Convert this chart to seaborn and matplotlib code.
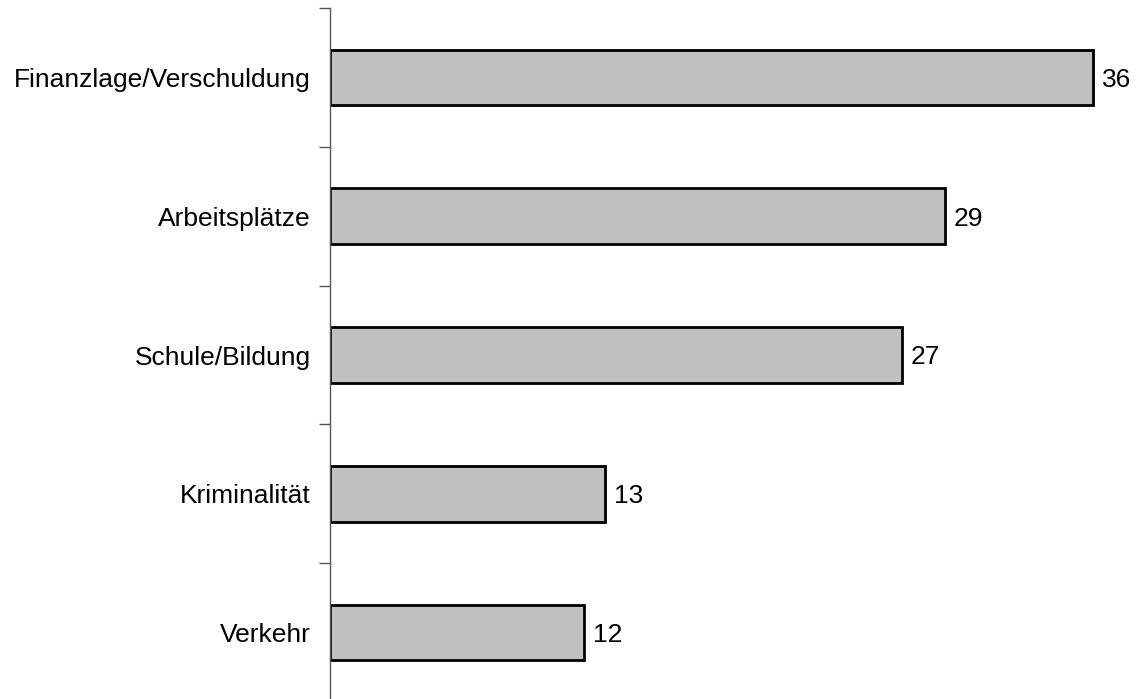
import matplotlib
matplotlib.use("Agg")
import matplotlib.pyplot as plt
import seaborn as sns
import pandas as pd

# data
categories = ["Finanzlage/Verschuldung", "Arbeitsplätze", "Schule/Bildung", "Kriminalität", "Verkehr"]
values = [36, 29, 27, 13, 12]

df = pd.DataFrame({"Thema": categories, "Wert": values})

sns.set_style("white")
plt.rcParams['font.family'] = ['Liberation Sans', 'DejaVu Sans']
plt.rcParams['text.color'] = 'black'
plt.rcParams['ytick.labelcolor'] = 'black'

fig = plt.figure(figsize=(11.38, 6.99), dpi=100)
ax = fig.add_axes([330 / 1138, -3 / 699, 808 / 1138, 694 / 699])

sns.barplot(
    data=df, x="Wert", y="Thema", orient="h",
    color="#c0c0c0", edgecolor="black", linewidth=2,
    width=0.4, saturation=1, ax=ax
)

for i, v in enumerate(values):
    ax.text(v + 0.42, i, str(v), va="center_baseline", ha="left", fontsize=19, color="black")

ax.set_xlim(0, 808 / 21.19)
ax.set_ylim(4.5, -0.5)
ax.set_xlabel("")
ax.set_ylabel("")
ax.set_xticks([])

# labels at centers, tick marks at category borders
ax.set_yticks(range(len(categories)))
ax.set_yticklabels(categories, fontsize=19, color="black", va="center_baseline")
ax.set_yticks([i - 0.5 for i in range(len(categories) + 1)], minor=True)
ax.tick_params(axis="y", which="major", length=0, pad=14)
ax.tick_params(axis="y", which="minor", length=8, width=1, color="#555555", left=True)

for s in ["top", "right", "bottom"]:
    ax.spines[s].set_visible(False)
ax.spines["left"].set_color("#555555")
ax.spines["left"].set_linewidth(1)

fig.savefig("out.png", dpi=100)
